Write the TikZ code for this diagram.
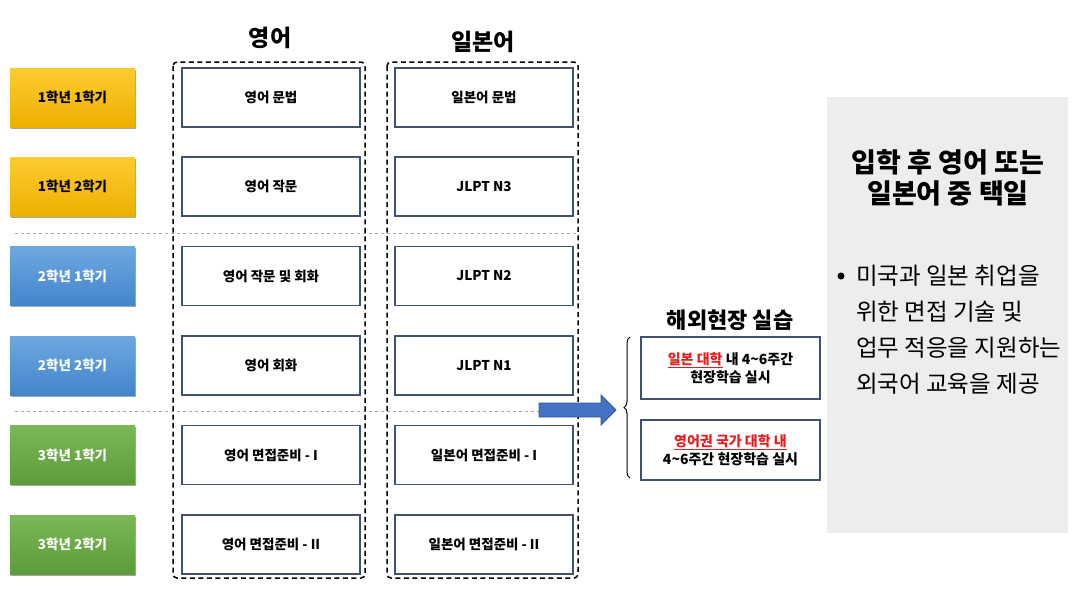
\documentclass[tikz,border=0pt]{standalone}
\usepackage{fontspec}
\setmainfont{Noto Sans CJK KR}
\usetikzlibrary{shadows,decorations.pathreplacing,positioning}
\definecolor{boxline}{HTML}{3F5070}
\definecolor{panelgray}{HTML}{EDEDED}
\definecolor{arrowblue}{HTML}{4472C4}
\definecolor{redtxt}{HTML}{E41E1E}
\definecolor{yeltop}{HTML}{FFCB30}
\definecolor{yelbot}{HTML}{EBB000}
\definecolor{blutop}{HTML}{6DA8E0}
\definecolor{blubot}{HTML}{4385CB}
\definecolor{grntop}{HTML}{7BB858}
\definecolor{grnbot}{HTML}{5C9C38}
\newcommand{\redline}[1]{{\color{redtxt}\underline{#1}}}

\begin{document}
\begin{tikzpicture}[x=1pt,y=-1pt,
	sem/.style={minimum width=125pt, minimum height=59pt, inner sep=0pt,
		font=\bfseries\fontsize{13.5}{15}\selectfont,
		drop shadow={shadow xshift=1.2pt, shadow yshift=-1.8pt, opacity=.35, fill=black}},
	yel/.style={sem, top color=yeltop, bottom color=yelbot},
	blu/.style={sem, text=white, top color=blutop, bottom color=blubot},
	grn/.style={sem, text=white, top color=grntop, bottom color=grnbot},
	subj/.style={draw=boxline, line width=1.2pt, fill=white, minimum width=178pt,
		minimum height=59pt, inner sep=0pt, font=\bfseries\fontsize{13.5}{15}\selectfont},
	colbox/.style={draw=black, line width=1.5pt, dash pattern=on 5pt off 3.5pt, rounded corners=4pt},
	sepline/.style={draw=black!35, dashed, line width=.8pt},
	visit/.style={draw=boxline, line width=1.2pt, fill=white, minimum width=179pt,
		inner sep=0pt, align=center, font=\bfseries\fontsize{14}{18}\selectfont}]
	\useasboundingbox (0,0) rectangle (1080,600);
	% semester labels
	\node[yel] (s11) at (72.5,97.5){1학년 1학기};
	\node[yel] (s12) at (72.5,186.5){1학년 2학기};
	\node[blu] (s21) at (72.5,276){2학년 1학기};
	\node[blu] (s22) at (72.5,365.5){2학년 2학기};
	\node[grn] (s31) at (72.5,455){3학년 1학기};
	\node[grn] (s32) at (72.5,544.5){3학년 2학기};
	% separators between years
	\coordinate (sepa) at (15,233);
	\coordinate (sepb) at (578,233);
	\coordinate (sepc) at (15,411);
	\coordinate (sepd) at (540,411);
	\draw[sepline] (sepa) -- (sepb);
	\draw[sepline] (sepc) -- (sepd);
	% column frames
	\draw[colbox] (173,62) rectangle (365,578);
	\draw[colbox] (387,62) rectangle (578,578);
	\node[font=\bfseries\fontsize{23}{25}\selectfont] (en) at (270,38){영어};
	\node[font=\bfseries\fontsize{23}{25}\selectfont] (jp) at (483,42){일본어};
	% english
	\node[subj] (e1) at (271,97.5){영어 문법};
	\node[subj] (e2) at (271,186.5){영어 작문};
	\node[subj] (e3) at (271,276){영어 작문 및 회화};
	\node[subj] (e4) at (271,365.5){영어 회화};
	\node[subj] (e5) at (271,455){영어 면접준비 - I};
	\node[subj] (e6) at (271,544.5){영어 면접준비 - II};
	% japanese
	\node[subj] (j1) at (484,97.5){일본어 문법};
	\node[subj] (j2) at (484,186.5){JLPT N3};
	\node[subj] (j3) at (484,276){JLPT N2};
	\node[subj] (j4) at (484,365.5){JLPT N1};
	\node[subj] (j5) at (484,455){일본어 면접준비 - I};
	\node[subj] (j6) at (484,544.5){일본어 면접준비 - II};
	% block arrow to field training
	\filldraw[fill=arrowblue, draw=arrowblue!75!black, line width=.8pt]
		(539,403) -- (601,403) -- (601,395) -- (616,410) -- (601,425) -- (601,417) -- (539,417) -- cycle;
	\node[font=\bfseries\fontsize{22}{24}\selectfont] (ov) at (730,320){해외현장 실습};
	\node[visit, minimum height=62pt] (v1) at (730.5,368){\redline{일본 대학} 내 4\textasciitilde6주간\\현장학습 실시};
	\node[visit, minimum height=60pt] (v2) at (730.5,450){\redline{영어권 국가 대학 내}\\4\textasciitilde6주간 현장학습 실시};
	\coordinate (bra) at (630,478);
	\coordinate (brb) at (630,337);
	\draw[decorate, decoration={brace, amplitude=6pt}, line width=1pt] (bra) -- (brb);
	% summary panel
	\fill[panelgray] (827,97) rectangle (1068,533);
	\node[align=center, font=\bfseries\fontsize{27}{31}\selectfont] (goal) at (948,178){입학 후 영어 또는\\일본어 중 택일};
	\node[circle, fill=black, inner sep=0pt, minimum size=7pt] (bul) at (841,276){};
	\node[anchor=west, align=left, inner sep=0pt, font=\fontsize{23.5}{36}\selectfont] (desc) at (856,330){미국과 일본 취업을\\위한 면접 기술 및\\업무 적응을 지원하는\\외국어 교육을 제공};
\end{tikzpicture}
\end{document}
